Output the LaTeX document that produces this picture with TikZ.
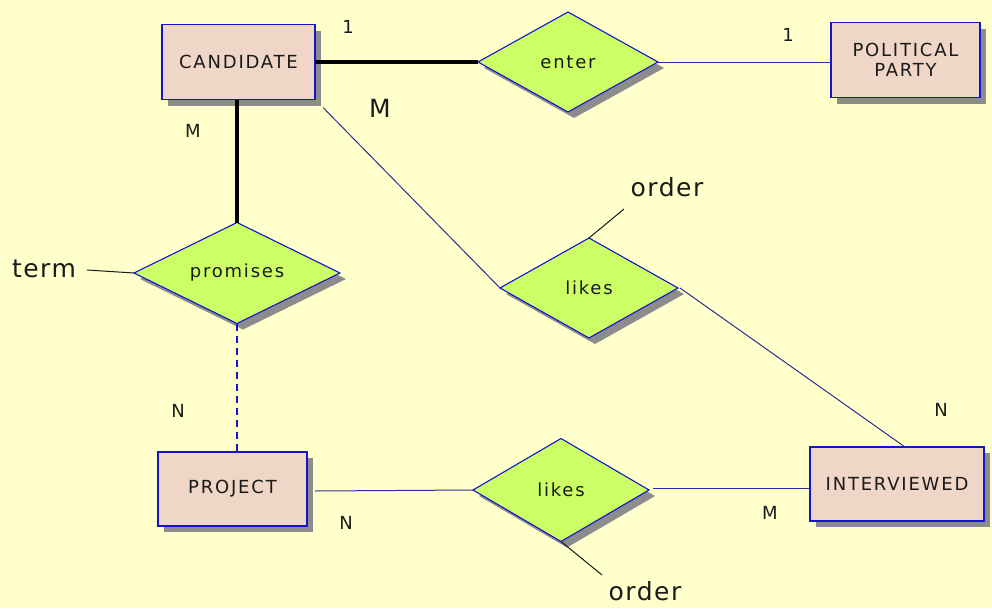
\documentclass[tikz,border=0pt]{standalone}
\usepackage{fontspec}
\setmainfont{DejaVu Sans}
\newfontfamily\spacedsans[LetterSpace=10]{DejaVu Sans}
\newfontfamily\attrsans[LetterSpace=6]{DejaVu Sans}
\usetikzlibrary{shapes.geometric,shadows,calc}

\definecolor{bgyellow}{HTML}{FFFFCC}
\definecolor{entfill}{HTML}{F0D6C6}
\definecolor{relfill}{HTML}{CCFF66}
\definecolor{erblue}{HTML}{1414CC}
\definecolor{linkblue}{HTML}{2E2E96}
\definecolor{shadowgray}{HTML}{8C8C8C}
\definecolor{inkblack}{HTML}{1A1A1A}

\newcommand\boxfont{\spacedsans\fontsize{18}{20}\selectfont}
\newcommand\attrfont{\attrsans\fontsize{25}{28}\selectfont}

\begin{document}
\begin{tikzpicture}[x=1pt,y=-1pt,
  erdshadow/.style={drop shadow={shadow xshift=6pt,shadow yshift=-6pt,fill=shadowgray,opacity=1}},
  entity/.style={rectangle,draw=erblue,line width=1.3pt,fill=entfill,erdshadow,
    inner sep=0pt,outer sep=0pt,font=\boxfont,text=inkblack,align=center},
  relation/.style={diamond,draw=erblue,line width=1.1pt,fill=relfill,erdshadow,
    inner sep=0pt,outer sep=0pt,font=\boxfont,text=inkblack},
  card/.style={font=\boxfont,text=inkblack,inner sep=0pt},
  attr/.style={font=\attrfont,text=inkblack,inner sep=0pt},
  strong/.style={line width=4pt,black},
  weak/.style={line width=1pt,linkblue},
  optional/.style={line width=1.6pt,erblue,dash pattern=on 7pt off 5pt},
  attrline/.style={line width=1pt,inkblack}]

\fill[bgyellow] (0,0) rectangle (992,608);
\useasboundingbox (0,0) rectangle (992,608);

% entities
\node[entity,minimum width=153pt,minimum height=75pt] (cand) at (238.5,62) {CANDIDATE};
\node[entity,minimum width=149pt,minimum height=75pt] (party) at (905.5,60) {POLITICAL\\PARTY};
\node[entity,minimum width=149pt,minimum height=74pt] (proj) at (232.5,489) {PROJECT};
\node[entity,minimum width=174pt,minimum height=74pt] (intv) at (897,484) {INTERVIEWED};

% relationships
\node[relation,minimum width=180pt,minimum height=100pt,aspect=1.8] (enter) at (568,62) {enter};
\node[relation,minimum width=206pt,minimum height=101pt,aspect=2.04] (prom) at (237,273) {promises};
\node[relation,minimum width=178pt,minimum height=100pt,aspect=1.78] (likesA) at (589,288) {likes};
\node[relation,minimum width=176pt,minimum height=103pt,aspect=1.71] (likesB) at (561,490) {likes};

% attributes
\node[attr,anchor=base] (ordA) at (667,196) {order};
\node[attr,anchor=base] (ordB) at (645,600) {order};
\node[attr,anchor=base] (term) at (44,277) {term};
\coordinate (ordAend) at (624,209);
\coordinate (ordBend) at (602,575);
\coordinate (termend) at (87,270);

% connectors
\draw[strong] (cand.east) -- (enter.west);
\draw[weak] (enter.east) -- (party.west |- enter.east);
\draw[strong] (prom.north |- cand.south) -- (prom.north);
\draw[optional] (prom.south) -- (prom.south |- proj.north);
\draw[weak] ($(cand.south east)+(8,8)$) -- (likesA.west);
\draw[weak] ($(likesA.east)+(2,0)$) -- ($(intv.north)+(8,0)$);
\draw[weak] ($(proj.east)+(8,2)$) -- (likesB.west);
\draw[weak] ($(likesB.east)+(4,-2)$) -- (intv.west |- 0,488);
\draw[attrline] (likesA.north) -- (ordAend);
\draw[attrline] (likesB.south) -- (ordBend);
\draw[attrline] (termend) -- (prom.west);

% cardinalities
\node[card] (c1) at (348,27) {1};
\node[card] (c2) at (788,35) {1};
\node[attr] (c3) at (380,108) {M};
\node[card] (c4) at (193,131) {M};
\node[card] (c5) at (178,411) {N};
\node[card] (c6) at (346,523) {N};
\node[card] (c7) at (770,513) {M};
\node[card] (c8) at (941,410) {N};
\end{tikzpicture}
\end{document}
